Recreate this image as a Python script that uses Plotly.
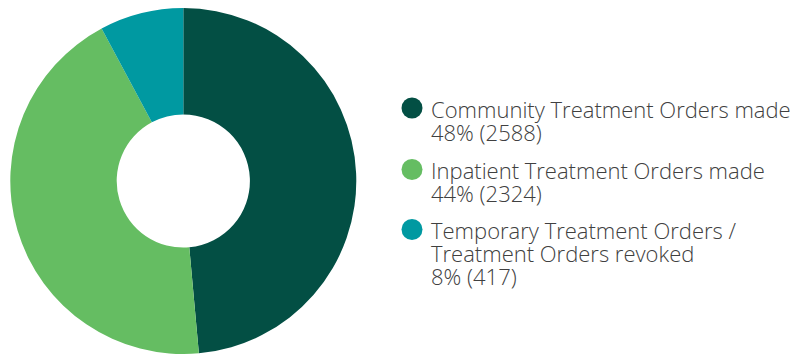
import plotly.graph_objects as go

# Treatment order categories and counts
labels = [
    "Community Treatment Orders made",
    "Inpatient Treatment Orders made",
    "Temporary Treatment Orders / Treatment Orders revoked",
]
label_lines = [
    ["Community Treatment Orders made"],
    ["Inpatient Treatment Orders made"],
    ["Temporary Treatment Orders /", "Treatment Orders revoked"],
]
values = [2588, 2324, 417]
percents = [48, 44, 8]
colors = ["#034f44", "#65bd62", "#0099a1"]

W, H = 806, 354
FONT = "Open Sans"
GLYPH_SIZE = 22          # rendered size of the legend text
TEXT_COLOR = "#404040"

fig = go.Figure()

fig.add_trace(go.Pie(
    labels=labels,
    values=values,
    sort=False,
    direction="clockwise",
    rotation=0,
    hole=0.385,
    textinfo="none",
    hoverinfo="label+value+percent",
    marker=dict(colors=colors, line=dict(width=0)),
    domain=dict(x=[10.3 / W, 356.3 / W], y=[0, 346 / H]),
    showlegend=False,
))

# Legend block: circle keys plus one multi-line text block per entry.
# The base font size sets the (tight) line pitch; spans set the glyph size.
key_x = 412
text_x = 429
line_gap = 23
base_size = line_gap / 1.3
first_baselines = [116.5, 178, 238]
ascent = 1.069 * GLYPH_SIZE  # distance from text-box top to first baseline

key_y = []
annotations = []
for i, lines in enumerate(label_lines):
    all_lines = lines + [f"{percents[i]}% ({values[i]})"]
    base = first_baselines[i]
    key_y.append(base - 8.5)
    text = "<br>".join(
        f'<span style="font-size:{GLYPH_SIZE}px">{ln}</span>' for ln in all_lines
    )
    annotations.append(dict(
        x=text_x, y=base - ascent - 1,
        xref="x", yref="y",
        text=text, showarrow=False, align="left",
        xanchor="left", yanchor="top",
        font=dict(family=FONT, size=base_size, color=TEXT_COLOR, weight=300),
    ))

fig.add_trace(go.Scatter(
    x=[key_x] * len(labels),
    y=key_y,
    mode="markers",
    marker=dict(size=21, color=colors, line=dict(width=0)),
    hoverinfo="skip",
    showlegend=False,
))

fig.update_layout(
    width=W, height=H,
    margin=dict(l=0, r=0, t=0, b=0),
    paper_bgcolor="white",
    plot_bgcolor="rgba(0,0,0,0)",
    xaxis=dict(range=[0, W], visible=False, fixedrange=True),
    yaxis=dict(range=[H, 0], visible=False, fixedrange=True),
    annotations=annotations,
)

fig.write_html("out.html")
